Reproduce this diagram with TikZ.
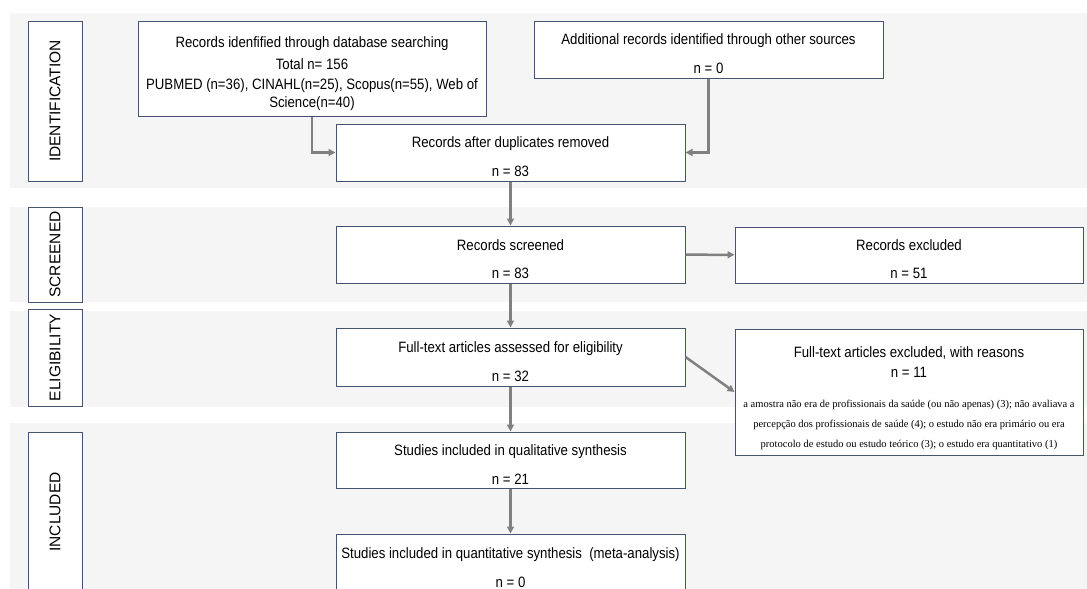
\documentclass[tikz,border=0pt]{standalone}
\usepackage{fontspec}
\setmainfont{Liberation Sans}
\newfontfamily\boxfont{Liberation Sans}[FakeStretch=0.88]
\newfontfamily\notefont{Liberation Serif}
\usetikzlibrary{arrows.meta}

\definecolor{boxline}{RGB}{68,84,112}
\definecolor{band}{RGB}{245,245,245}
\definecolor{arrowgray}{RGB}{128,128,128}

\newcommand{\topgap}[1][20pt]{\rule{0pt}{#1}}
\newcommand{\notesize}{\notefont\fontsize{10.5}{20}\selectfont}

\begin{document}
\begin{tikzpicture}[x=1pt, y=-1pt,
  font=\boxfont\fontsize{15}{20}\selectfont,
  stage/.style={draw=boxline, fill=white, line width=1pt, rotate=90, inner sep=0pt,
    minimum height=54, font=\fontsize{15.5}{18}\selectfont},
  box/.style={draw=boxline, fill=white, line width=1pt, align=center, inner sep=0pt,
    minimum width=349, minimum height=57},
  arr/.style={draw=arrowgray, line width=2.5pt, -{Triangle[length=7pt,width=7pt]}}]

\useasboundingbox (0,0) rectangle (1087,589);

\foreach \ya/\yb in {13/188, 207/302, 311/407, 423/600} {
  \fill[band] (10,\ya) rectangle (1087,\yb);
}

% stages
\node[stage, minimum width=160] (ident) at (55,101) {IDENTIFICATION};
\node[stage, minimum width=95] (screen) at (55,254.5) {SCREENED};
\node[stage, minimum width=97] (elig) at (55,357.5) {ELIGIBILITY};
\node[stage, minimum width=160] (incl) at (55,512) {INCLUDED};

% records
\node[box, minimum width=348, minimum height=95] (db) at (312,68.5)
  {\topgap[21pt]Records idenfified through database searching\\[2pt] Total n= 156\\
   PUBMED (n=36), CINAHL(n=25), Scopus(n=55), Web of\\[-2pt] Science(n=40)};
\node[box] (add) at (708.5,49.5) {\topgap Additional records identified through other sources\\[9pt] n = 0};
\node[box] (dup) at (510.5,152.5) {\topgap Records after duplicates removed\\[9pt] n = 83};
\node[box] (scr) at (510.5,254.5) {\topgap Records screened\\[8pt] n = 83};
\node[box, minimum width=348, minimum height=56] (excl) at (909,255) {\topgap Records excluded\\[8pt] n = 51};
\node[box, minimum height=58] (full) at (510.5,357) {\topgap Full-text articles assessed for eligibility\\[9pt] n = 32};
\node[box, minimum width=348, minimum height=126] (fexcl) at (909,392)
  {\topgap[23pt]Full-text articles excluded, with reasons\\ n = 11\\[10pt]
   {\notesize a amostra não era de profissionais da saúde (ou não apenas) (3); não avaliava a}\\
   {\notesize percepção dos profissionais de saúde (4); o estudo não era primário ou era}\\
   {\notesize protocolo de estudo ou estudo teórico (3); o estudo era quantitativo (1)}};
\node[box, minimum height=56] (qual) at (510.5,460) {\topgap Studies included in qualitative synthesis\\[9pt] n = 21};
\node[box, minimum height=58] (quant) at (510.5,563) {\topgap Studies included in quantitative synthesis\ \ (meta-analysis)\\[9pt] n = 0};

% arrows
\draw[arr] (db.south) |- (dup.west);
\draw[arr] (add.south) |- (dup.east);
\draw[arr] (dup) -- (scr);
\draw[arr] (scr) -- (excl);
\draw[arr] (scr) -- (full);
\draw[arr] (full.east) -- (fexcl.west);
\draw[arr] (full) -- (qual);
\draw[arr] (qual) -- (quant);

\end{tikzpicture}
\end{document}
